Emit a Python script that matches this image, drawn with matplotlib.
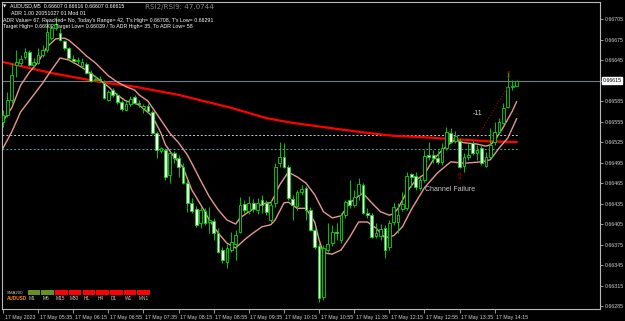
import matplotlib
matplotlib.use('Agg')
import matplotlib.pyplot as plt
import matplotlib.transforms as mtransforms

plt.rcParams['font.family'] = ['Liberation Sans', 'DejaVu Sans']

# ---------------- data ----------------
opens = [0.66554,0.66565,0.66586,0.66638,0.66641,0.66649,0.66657,0.66638,0.66641,0.66652,
         0.66660,0.66677,0.66692,0.66685,0.66673,0.66663,0.66646,0.66644,0.66636,0.66639,
         0.66626,0.66616,0.66617,0.66611,0.66586,0.66601,0.66594,0.66584,0.66572,0.66581,
         0.66591,0.66582,0.66575,0.66578,0.66569,0.66538,0.66512,0.66513,0.66477,0.66509,
         0.66502,0.66488,0.66465,0.66436,0.66427,0.66407,0.66424,0.66408,0.66409,0.66392,
         0.66367,0.66349,0.66367,0.66376,0.66393,0.66434,0.66424,0.66436,0.66426,0.66440,
         0.66436,0.66411,0.66436,0.66494,0.66503,0.66488,0.66442,0.66431,0.66452,0.66458,
         0.66426,0.66396,0.66373,0.66298,0.66367,0.66377,0.66393,0.66382,0.66418,0.66440,
         0.66433,0.66448,0.66462,0.66421,0.66418,0.66388,0.66388,0.66399,0.66371,0.66408,
         0.66408,0.66427,0.66428,0.66478,0.66475,0.66458,0.66469,0.66506,0.66506,0.66502,
         0.66496,0.66516,0.66538,0.66527,0.66527,0.66490,0.66503,0.66524,0.66509,0.66516,
         0.66490,0.66503,0.66525,0.66540,0.66553,0.66576,0.66606,0.66607]
highs = [0.66572,0.66598,0.66641,0.66660,0.66652,0.66663,0.66660,0.66648,0.66663,0.66667,
         0.66704,0.66698,0.66708,0.66692,0.66674,0.66664,0.66652,0.66649,0.66648,0.66642,
         0.66630,0.66623,0.66622,0.66616,0.66601,0.66604,0.66597,0.66586,0.66586,0.66592,
         0.66594,0.66586,0.66581,0.66582,0.66572,0.66541,0.66518,0.66516,0.66510,0.66512,
         0.66506,0.66494,0.66469,0.66443,0.66431,0.66430,0.66428,0.66430,0.66414,0.66399,
         0.66371,0.66376,0.66393,0.66396,0.66445,0.66440,0.66446,0.66442,0.66443,0.66448,
         0.66440,0.66440,0.66494,0.66525,0.66524,0.66491,0.66448,0.66455,0.66462,0.66461,
         0.66430,0.66399,0.66377,0.66374,0.66407,0.66404,0.66407,0.66421,0.66440,0.66469,
         0.66455,0.66472,0.66465,0.66428,0.66421,0.66407,0.66405,0.66404,0.66411,0.66436,
         0.66436,0.66452,0.66481,0.66480,0.66481,0.66474,0.66513,0.66525,0.66513,0.66513,
         0.66524,0.66547,0.66546,0.66541,0.66531,0.66509,0.66524,0.66527,0.66521,0.66521,
         0.66510,0.66546,0.66554,0.66560,0.66582,0.66627,0.66616,0.66616]
lows = [0.66547,0.66562,0.66582,0.66620,0.66636,0.66646,0.66636,0.66635,0.66639,0.66649,
        0.66657,0.66674,0.66689,0.66673,0.66660,0.66646,0.66641,0.66639,0.66633,0.66625,
        0.66613,0.66614,0.66613,0.66588,0.66585,0.66591,0.66581,0.66570,0.66570,0.66578,
        0.66581,0.66576,0.66567,0.66567,0.66537,0.66502,0.66509,0.66469,0.66465,0.66494,
        0.66474,0.66464,0.66423,0.66421,0.66401,0.66399,0.66404,0.66392,0.66382,0.66363,
        0.66348,0.66341,0.66364,0.66352,0.66392,0.66421,0.66420,0.66423,0.66420,0.66421,
        0.66418,0.66408,0.66430,0.66488,0.66487,0.66440,0.66411,0.66426,0.66448,0.66411,
        0.66395,0.66369,0.66291,0.66294,0.66364,0.66373,0.66382,0.66377,0.66414,0.66428,
        0.66430,0.66440,0.66420,0.66414,0.66385,0.66385,0.66382,0.66355,0.66367,0.66404,
        0.66392,0.66424,0.66426,0.66459,0.66455,0.66455,0.66467,0.66499,0.66494,0.66493,
        0.66491,0.66513,0.66524,0.66524,0.66487,0.66481,0.66499,0.66506,0.66499,0.66491,
        0.66488,0.66502,0.66521,0.66537,0.66551,0.66575,0.66601,0.66607]
closes = [0.66565,0.66586,0.66623,0.66642,0.66646,0.66657,0.66638,0.66642,0.66652,0.66660,
          0.66686,0.66692,0.66698,0.66674,0.66663,0.66648,0.66644,0.66645,0.66642,0.66626,
          0.66614,0.66617,0.66616,0.66589,0.66598,0.66594,0.66584,0.66573,0.66581,0.66588,
          0.66582,0.66581,0.66578,0.66570,0.66538,0.66513,0.66516,0.66474,0.66509,0.66502,
          0.66488,0.66465,0.66436,0.66424,0.66404,0.66426,0.66407,0.66411,0.66392,0.66364,
          0.66352,0.66370,0.66379,0.66389,0.66433,0.66426,0.66436,0.66427,0.66436,0.66433,
          0.66423,0.66433,0.66488,0.66503,0.66488,0.66443,0.66433,0.66452,0.66456,0.66426,
          0.66396,0.66371,0.66297,0.66370,0.66376,0.66393,0.66392,0.66418,0.66437,0.66433,
          0.66445,0.66464,0.66421,0.66418,0.66386,0.66392,0.66398,0.66367,0.66407,0.66430,
          0.66418,0.66434,0.66475,0.66474,0.66459,0.66469,0.66505,0.66503,0.66502,0.66496,
          0.66516,0.66540,0.66525,0.66534,0.66488,0.66503,0.66506,0.66509,0.66513,0.66494,
          0.66503,0.66521,0.66540,0.66554,0.66575,0.66606,0.66607,0.66615]

upper_idx = [0,2,4,6,8,10,12,14,15,17,19,21,24,26,28,30,31,33,36,38,40,42,43,45,47,49,51,53,54,
             56,58,60,61,62,63,65,67,69,71,73,75,77,79,81,82,84,86,88,89,90,92,94,96,98,100,
             102,103,105,108,110,111,112,114,116,117]
upper_val = [0.66556,0.66575,0.66608,0.66627,0.66642,0.66664,0.66676,0.66677,0.66674,0.66663,
             0.66651,0.66641,0.66622,0.66613,0.66606,0.66601,0.66594,0.66585,0.66557,0.66538,
             0.66524,0.66506,0.66494,0.66469,0.66445,0.66426,0.66411,0.66405,0.66414,0.66423,
             0.66431,0.66436,0.66436,0.66448,0.66462,0.66481,0.66474,0.66465,0.66448,0.66423,
             0.66414,0.66417,0.66436,0.66446,0.66450,0.66436,0.66423,0.66418,0.66420,0.66428,
             0.66452,0.66469,0.66478,0.66499,0.66513,0.66524,0.66528,0.66524,0.66522,0.66519,
             0.66521,0.66527,0.66547,0.66570,0.66584]
lower_idx = [0,2,4,7,9,11,13,15,17,19,22,24,26,28,30,31,34,36,37,39,41,43,46,47,49,51,53,55,57,
             59,61,62,64,65,67,69,71,72,73,75,77,79,81,83,85,87,89,91,93,96,99,102,105,109,111,
             113,115,117]
lower_val = [0.66516,0.66540,0.66569,0.66594,0.66611,0.66630,0.66648,0.66645,0.66638,0.66630,
             0.66616,0.66606,0.66594,0.66585,0.66582,0.66579,0.66563,0.66538,0.66521,0.66503,
             0.66488,0.66455,0.66423,0.66411,0.66392,0.66377,0.66370,0.66382,0.66392,0.66401,
             0.66404,0.66411,0.66436,0.66437,0.66428,0.66428,0.66408,0.66382,0.66363,0.66361,
             0.66367,0.66386,0.66408,0.66408,0.66399,0.66385,0.66388,0.66401,0.66426,0.66458,
             0.66480,0.66496,0.66494,0.66496,0.66499,0.66516,0.66531,0.66559]
sma_idx = [0,11,22,30,40,45,52,60,66,74,81,89,96,103,111,117]
sma_val = [0.66642,0.66626,0.66613,0.66606,0.66594,0.66586,0.66575,0.66560,0.66553,0.66546,
           0.66540,0.66534,0.66532,0.66529,0.66526,0.66525]

current_price = 0.66615
level_white = 0.66535
level_cyan = 0.66515
signal_line_idx = [108, 115]
signal_line_val = [0.66532, 0.66606]

time_tick_idx = [0,8,16,24,32,40,48,56,64,72,80,88,96,104,112]
time_tick_labels = ['17 May 2023','17 May 05:35','17 May 06:15','17 May 06:55','17 May 07:35',
                    '17 May 08:15','17 May 08:55','17 May 09:35','17 May 10:15','17 May 10:55',
                    '17 May 11:35','17 May 12:15','17 May 12:55','17 May 13:35','17 May 14:15']
price_ticks = [0.66285,0.66315,0.66345,0.66375,0.66405,0.66435,0.66465,0.66495,0.66525,
               0.66555,0.66585,0.66615,0.66645,0.66675,0.66705]

tf_labels = ['M1','M5','M15','M30','H1','H4','D1','W1','MN1']
tf_state = ['up','up','down','down','down','down','down','down','down']

header_lines = ['AUDUSD,M5  0.66607 0.66616 0.66607 0.66615',
                'ADR 1.00 20051027 01 Mod 01',
                "ADR Value= 67, Reached= No, Today's Range= 42, T's High= 0.66708, T's Low= 0.66291",
                'Target High= 0.66902 Target Low= 0.66039 / To ADR High= 35, To ADR Low= 58']
rsi_text = 'RSI2/RSI9: 47.0744'

# ---------------- figure ----------------
W, H = 625, 321
fig = plt.figure(figsize=(W/100, H/100), dpi=100, facecolor='black')
ax = fig.add_axes([2/W, (H-309)/H, 598/W, 307/H], facecolor='black')

def fx(x):
    return x / W
def fy(y):
    return 1 - y / H

n = len(opens)
idx = list(range(n))
ax.set_xlim(-0.23, 136.0)
ax.set_ylim(0.662807, 0.667299)

# reference lines
ax.axhline(current_price, color='#6f7f90', lw=0.8, zorder=1)
ax.hlines([level_white], -0.23, 117.5, colors='#c8c8c8', linestyles=(0, (2, 2)), lw=0.7, zorder=1)
ax.hlines([level_cyan], -0.23, 117.5, colors='#30b0b0', linestyles=(0, (2, 2)), lw=0.7, zorder=1)

# SMA200 and bands
ax.plot(sma_idx, sma_val, color='#ff0000', lw=1.6, zorder=2)
ax.plot(upper_idx, upper_val, color='#e9968f', lw=1.0, zorder=2)
ax.plot(lower_idx, lower_val, color='#e9968f', lw=1.0, zorder=2)

# candles
ax.vlines(idx, lows, highs, colors='#00c800', lw=0.7, zorder=3)
for i in idx:
    o, c = opens[i], closes[i]
    bottom = min(o, c)
    height = max(abs(c - o), 0.000008)
    fc = 'black' if c >= o else 'white'
    ax.bar(i, height, bottom=bottom, width=0.62, color=fc, edgecolor='#00e000',
           linewidth=0.6, zorder=4)

# signal marks
ax.plot(signal_line_idx, signal_line_val, color='#a00000', lw=0.8, ls=(0, (1, 1.5)), zorder=5)
ax.text(115, 0.66621, '\u21e9', color='#c00000', fontsize=6.5, ha='center', va='center',
        family='DejaVu Sans', zorder=6)
ax.text(104, 0.66474, '\u21e7', color='#c00000', fontsize=6.5, ha='center', va='center',
        family='DejaVu Sans', zorder=6)
ax.text(108.2, 0.66567, '-11', color='#c8d0e0', fontsize=5, ha='center', va='center', zorder=6)
ax.text(101.8, 0.66456, 'Channel Failure', color='#c8c8c8', fontsize=5, ha='center',
        va='center', zorder=6)

# axes styling
for s in ax.spines.values():
    s.set_color('#b8b8b8')
    s.set_linewidth(0.8)
ax.yaxis.tick_right()
ax.set_yticks(price_ticks)
ax.set_yticklabels(['' if abs(p - current_price) < 1e-7 else f'{p:.5f}' for p in price_ticks])
ax.tick_params(axis='y', colors='#b8b8b8', labelcolor='#d0d0d0', labelsize=3.8, length=2,
               width=0.6, pad=1.2)
ax.set_xticks(time_tick_idx)
ax.set_xticklabels(time_tick_labels)
ax.tick_params(axis='x', colors='#b8b8b8', labelcolor='#d0d0d0', labelsize=3.8, length=3,
               width=0.6, pad=1.0)
offset = mtransforms.ScaledTranslation(1.5/100, 0, fig.dpi_scale_trans)
for lab in ax.get_xticklabels():
    lab.set_horizontalalignment('left')
    lab.set_transform(lab.get_transform() + offset)

# current price box
ax.text(1.004, current_price, f'{current_price:.5f}',
        transform=mtransforms.blended_transform_factory(ax.transAxes, ax.transData),
        fontsize=3.8, color='black', ha='left', va='center',
        bbox=dict(boxstyle='square,pad=0.12', fc='white', ec='white'), clip_on=False)

# header texts
fig.text(fx(3), fy(6), '\u25bc', color='white', fontsize=3, ha='left', va='center', family='DejaVu Sans')
fig.text(fx(10), fy(6), header_lines[0], color='white', fontsize=3.8, ha='left', va='center')
fig.text(fx(11), fy(13.5), header_lines[1], color='white', fontsize=3.8, ha='left', va='center')
fig.text(fx(3), fy(20.5), header_lines[2], color='white', fontsize=3.8, ha='left', va='center')
fig.text(fx(3), fy(26.5), header_lines[3], color='white', fontsize=3.8, ha='left', va='center')
fig.text(fx(145), fy(7), rsi_text, color='#8a8a8a', fontsize=5.1, ha='left', va='center',
         family='DejaVu Sans')

# timeframe SMA200 legend
fig.text(fx(7), fy(292.5), 'SMA200', color='#c8c8c8', fontsize=3.2, ha='left', va='center')
fig.text(fx(7), fy(299), 'AUDUSD', color='#ff8c00', fontsize=3.4, ha='left', va='center',
         fontweight='bold')
box_w = 13.7
for k, (lab, st) in enumerate(zip(tf_labels, tf_state)):
    x0 = 27.7 + k * box_w
    col = '#6b8e23' if st == 'up' else '#ff0000'
    fig.patches.append(plt.Rectangle((fx(x0), fy(294.8)), (box_w - 1) / W, 4.8 / H,
                                     transform=fig.transFigure, facecolor=col, edgecolor='none'))
    fig.text(fx(x0 + 1), fy(299), lab, color='#d0d0d0', fontsize=3.4, ha='left', va='center')

fig.savefig('out.png', dpi=100, facecolor='black')
